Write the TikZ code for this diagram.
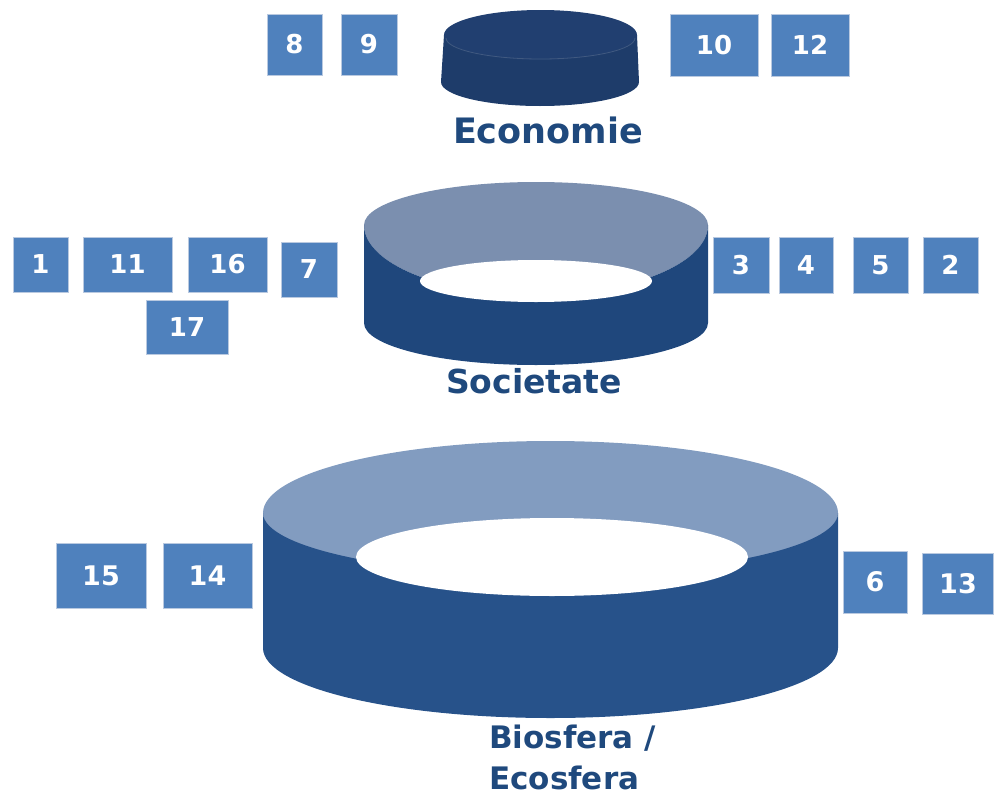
\documentclass[tikz,border=0pt]{standalone}
\usepackage{fontspec}
\usepackage{tikz}
\newfontfamily\numfont{DejaVu Sans}
\definecolor{boxblue}{HTML}{4F81BD}
\definecolor{boxedge}{HTML}{B9C9E0}
\definecolor{ringdark}{HTML}{1F477C}
\definecolor{ringlight}{HTML}{7B8FAF}
\definecolor{biodark}{HTML}{27528A}
\definecolor{biolight}{HTML}{829CC0}
\definecolor{puckside}{HTML}{1E3C6A}
\definecolor{pucktop}{HTML}{213F70}
\definecolor{labelblue}{HTML}{1F497D}
\tikzset{
    numbox/.style={fill=boxblue, draw=boxedge, line width=1pt, text=white, inner sep=0pt,
        font=\numfont\bfseries\fontsize{26}{26}\selectfont},
    lowbox/.style={numbox, font=\numfont\bfseries\fontsize{27}{27}\selectfont},
    ringname/.style={text=labelblue, inner sep=0pt, font=\numfont\bfseries\fontsize{33}{33}\selectfont}
}

\begin{document}
\begin{tikzpicture}[x=1pt,y=-1pt]
        \useasboundingbox (0,0) rectangle (994,798);
        \fill[puckside] (444,35) -- (441,82) arc[start angle=180, end angle=0, x radius=99, y radius=24] -- (637,35) -- cycle;
        \fill[pucktop] (540.5,35) ellipse [x radius=96.5, y radius=25];
        \draw[puckside!85!white, line width=0.8pt] (446,38) arc[start angle=180, end angle=0, x radius=94.5, y radius=21];
        \fill[ringlight] (364,225) arc[start angle=180, end angle=360, x radius=172, y radius=43] arc[start angle=0, end angle=180, x radius=172, y radius=70] -- cycle;
        \fill[ringdark] (364,225) arc[start angle=180, end angle=0, x radius=172, y radius=70] -- (708,323) arc[start angle=0, end angle=180, x radius=172, y radius=42] -- cycle;
        \fill[white] (536,281) ellipse [x radius=116, y radius=21];
        \fill[biolight] (550.5,513) ellipse [x radius=287.5, y radius=72];
        \fill[biodark] (263,513) arc[start angle=180, end angle=0, x radius=287.5, y radius=62] -- (838,648) arc[start angle=0, end angle=180, x radius=287.5, y radius=70] -- cycle;
        \fill[white] (552,557) ellipse [x radius=196, y radius=39];
        \node[numbox, minimum width=55, minimum height=61] (b8) at (294.5,44.5) {8};
        \node[numbox, minimum width=56, minimum height=61] (b9) at (369,44.5) {9};
        \node[numbox, minimum width=88, minimum height=62] (b10) at (714,45) {10};
        \node[numbox, minimum width=78, minimum height=62] (b12) at (810,45) {12};
        \node[numbox, minimum width=55, minimum height=55] (b1) at (40.5,264.5) {1};
        \node[numbox, minimum width=89, minimum height=55] (b11) at (127.5,264.5) {11};
        \node[numbox, minimum width=79, minimum height=55] (b16) at (227.5,264.5) {16};
        \node[numbox, minimum width=56, minimum height=55] (b7) at (309,269.5) {7};
        \node[numbox, minimum width=82, minimum height=54] (b17) at (187,327) {17};
        \node[numbox, minimum width=56, minimum height=56] (b3) at (741,265) {3};
        \node[numbox, minimum width=54, minimum height=56] (b4) at (806,265) {4};
        \node[numbox, minimum width=55, minimum height=56] (b5) at (880.5,265) {5};
        \node[numbox, minimum width=55, minimum height=56] (b2) at (950.5,265) {2};
        \node[lowbox, minimum width=90, minimum height=65] (b15) at (101,575.5) {15};
        \node[lowbox, minimum width=89, minimum height=65] (b14) at (207.5,575.5) {14};
        \node[lowbox, minimum width=64, minimum height=62] (b6) at (875,582) {6};
        \node[lowbox, minimum width=71, minimum height=61] (b13) at (958,583.5) {13};
        \node[ringname, font=\numfont\bfseries\fontsize{35}{35}\selectfont] (econ) at (548,130) {Economie};
        \node[ringname] (soc) at (534,381) {Societate};
        \node[ringname, font=\numfont\bfseries\fontsize{31}{41}\selectfont, align=left, anchor=north west] (bio) at (489,725) {Biosfera /\\Ecosfera};
    \end{tikzpicture}
\end{document}
